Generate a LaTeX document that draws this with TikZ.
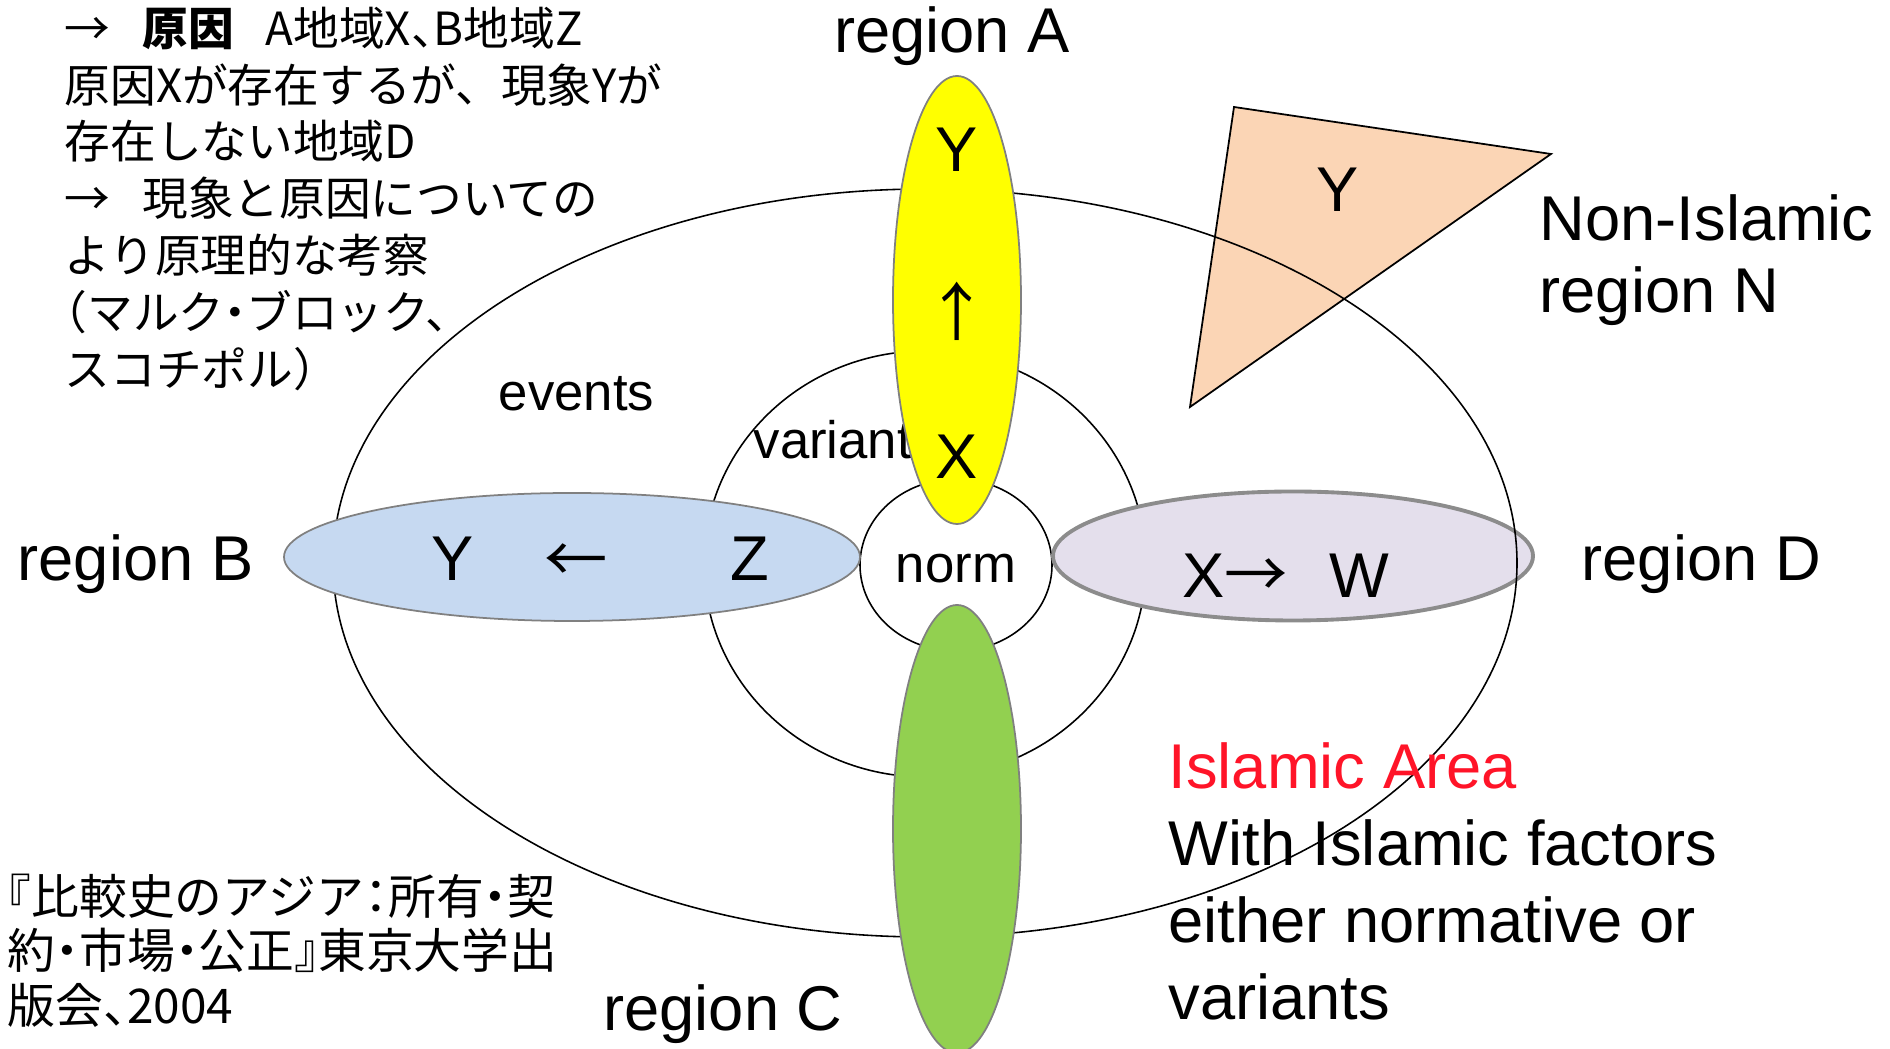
\documentclass[tikz,border=0pt]{standalone}
\usepackage{fontspec}
\setmainfont{Liberation Sans}
\newfontfamily\jpfont[RawFeature=+halt]{Noto Sans CJK JP}
\newfontfamily\arrowfont{Noto Sans CJK JP}
\usetikzlibrary{shapes.geometric}
\definecolor{regyellow}{RGB}{255,255,0}
\definecolor{regblue}{RGB}{198,217,241}
\definecolor{reggreen}{RGB}{146,208,80}
\definecolor{regpurple}{RGB}{228,223,236}
\definecolor{nonpeach}{RGB}{251,213,181}
\definecolor{islred}{RGB}{255,20,40}
\tikzset{
    % rings of the Islamic area
    ring/.style={ellipse, draw=black, line width=0.45pt, inner sep=0pt, outer sep=0pt},
    % region ellipses
    regell/.style={ellipse, draw=gray, fill=#1, line width=0.5pt, inner sep=0pt, outer sep=0pt},
    % labels
    biglbl/.style={font=\fontsize{18}{21.6}\selectfont, inner sep=0pt},
    midlbl/.style={font=\fontsize{15}{18}\selectfont, inner sep=0pt},
    jptext/.style={font=\jpfont\fontsize{13}{15.8}\selectfont, align=left, inner sep=0pt},
}
\begin{document}
\begin{tikzpicture}
\useasboundingbox (0,0) rectangle (18.90,-10.49);

% Non-Islamic region
\filldraw[fill=nonpeach, draw=black, line width=0.5pt]
    (12.34,-1.07) -- (15.51,-1.54) -- (11.90,-4.07) -- cycle;

% rings
\node[ring, minimum width=4.42cm, minimum height=4.26cm] (mid) at (9.25,-5.64) {};
\node[ring, minimum width=1.92cm, minimum height=1.72cm] (norm) at (9.56,-5.65) {};
\node[regell=regpurple, draw=gray!90, line width=1.1pt,
      minimum width=4.80cm, minimum height=1.29cm] (regD) at (12.93,-5.56) {};
\node[ring, minimum width=11.84cm, minimum height=7.48cm] (outer) at (9.25,-5.63) {};
\node[regell=regblue, minimum width=5.76cm, minimum height=1.28cm] (regB) at (5.72,-5.57) {};

\node[midlbl, anchor=base west] (ev) at (4.98,-4.11) {events};
\node[midlbl, anchor=base west] (var) at (7.53,-4.59) {variant};
\node[midlbl, anchor=base] (nm) at (9.56,-5.83) {norm};

\node[regell=regyellow, minimum width=1.28cm, minimum height=4.48cm] (regA) at (9.57,-3.00) {};
\node[regell=reggreen, minimum width=1.28cm, minimum height=4.48cm] (regC) at (9.57,-8.29) {};

% inside the regions
\node[biglbl, anchor=base] (ay) at (9.57,-1.72) {Y};
\node[biglbl, font=\arrowfont\fontsize{18}{21.6}\selectfont] (aup) at (9.57,-3.11) {↑};
\node[biglbl, anchor=base] (ax) at (9.57,-4.79) {X};
\node[biglbl, anchor=base] (by) at (4.53,-5.81) {Y};
\node[biglbl, font=\arrowfont\fontsize{18}{21.6}\selectfont] (bleft) at (5.76,-5.63) {←};
\node[biglbl, anchor=base] (bz) at (7.50,-5.81) {Z};
\node[biglbl, anchor=base west] (dxw) at (11.82,-5.98) {X{\arrowfont →}\hspace{0.65em}W};
\node[biglbl, anchor=base] (ny) at (13.38,-2.12) {Y};

% region names
\node[biglbl, anchor=base] (la) at (9.52,-0.53) {region A};
\node[biglbl, anchor=base west] (lb) at (0.17,-5.81) {region B};
\node[biglbl, anchor=base] (lc) at (7.23,-10.31) {region C};
\node[biglbl, anchor=base west] (ld) at (15.81,-5.81) {region D};
\node[biglbl, anchor=north west, align=left, font=\fontsize{18}{20.5}\selectfont]
    (ln) at (15.39,-1.94) {Non-Islamic\\region N};

% Islamic area note
\node[biglbl, anchor=north west, align=left, font=\fontsize{18}{21.9}\selectfont]
    (isl) at (11.68,-7.42) {\textcolor{islred}{Islamic Area}\\With Islamic factors\\either normative or\\variants};

% Japanese notes
\node[jptext, anchor=north west, font=\jpfont\fontsize{13}{16.2}\selectfont] (cause) at (0.64,-0.06)
    {→\hspace{0.7em}\textbf{原因}\hspace{0.7em}A地域X、B地域Z\\
     原因Xが存在するが、\hspace{0.5em}現象Yが\\
     存在しない地域D\\
     →\hspace{0.7em}現象と原因についての\\
     より原理的な考察\\
     （マルク・ブロック、\\
     スコチポル）};
\node[jptext, anchor=north west, font=\jpfont\fontsize{13.6}{15.6}\selectfont] (cite) at (0.07,-8.73)
    {『比較史のアジア：所有・契\\
     約・市場・公正』東京大学出\\
     版会、2004};
\end{tikzpicture}
\end{document}
